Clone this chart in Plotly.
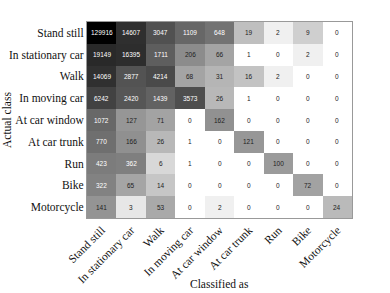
import numpy as np
import plotly.graph_objects as go

classes = ["Stand still", "In stationary car", "Walk", "In moving car", "At car window",
           "At car trunk", "Run", "Bike", "Motorcycle"]

row_stand_still = [129916, 14607, 3047, 1109, 648, 19, 2, 9, 0]
row_in_stationary_car = [19149, 16395, 1711, 206, 66, 1, 0, 2, 0]
row_walk = [14069, 2877, 4214, 68, 31, 16, 2, 0, 0]
row_in_moving_car = [6242, 2420, 1439, 3573, 26, 1, 0, 0, 0]
row_at_car_window = [1072, 127, 71, 0, 162, 0, 0, 0, 0]
row_at_car_trunk = [770, 166, 26, 1, 0, 121, 0, 0, 0]
row_run = [423, 362, 6, 1, 0, 0, 100, 0, 0]
row_bike = [322, 65, 14, 0, 0, 0, 0, 72, 0]
row_motorcycle = [141, 3, 53, 0, 2, 0, 0, 0, 24]

counts = np.array([row_stand_still, row_in_stationary_car, row_walk, row_in_moving_car,
                   row_at_car_window, row_at_car_trunk, row_run, row_bike, row_motorcycle])

logz = np.where(counts > 0, np.log10(np.maximum(counts, 1)), 0.0)
zmax = logz.max()
norm = logz / zmax

fig = go.Figure()
fig.add_trace(go.Heatmap(
    z=logz, x=classes, y=classes,
    zmin=0, zmax=zmax,
    colorscale=[[0, "white"], [1, "black"]],
    showscale=False, hoverinfo="skip",
))

for i, r in enumerate(classes):
    for j, c in enumerate(classes):
        col = "white" if norm[i, j] > 0.48 else "#222"
        fig.add_annotation(x=c, y=r, text=str(counts[i, j]), showarrow=False,
                           font=dict(family="Liberation Sans, Arial", size=6.5, color=col))

fig.add_annotation(text="Actual class", xref="paper", yref="paper", x=0, y=0.5,
                   xanchor="center", yanchor="middle", xshift=-80, textangle=-90,
                   showarrow=False, font=dict(size=11.5))
fig.add_annotation(text="Classified as", xref="paper", yref="paper", x=0.5, y=0,
                   xanchor="center", yanchor="middle", yshift=-66,
                   showarrow=False, font=dict(size=11.5))

fig.update_layout(
    width=390, height=293,
    margin=dict(l=87, r=38, t=22, b=75),
    paper_bgcolor="white", plot_bgcolor="white",
    font=dict(family="Liberation Serif, Times New Roman, serif", size=11.5, color="#111"),
)
fig.update_xaxes(tickangle=-45, showgrid=False, zeroline=False, showline=True, mirror=True,
                 linecolor="#999", linewidth=1, ticks="", ticklen=0, automargin=False)
fig.update_yaxes(autorange="reversed", showgrid=False, zeroline=False, showline=True, mirror=True,
                 linecolor="#999", linewidth=1, ticks="", ticklen=0, automargin=False)

fig.write_html("out.html", config={"displayModeBar": False},
               post_script=["document.body.style.margin='0';"])
